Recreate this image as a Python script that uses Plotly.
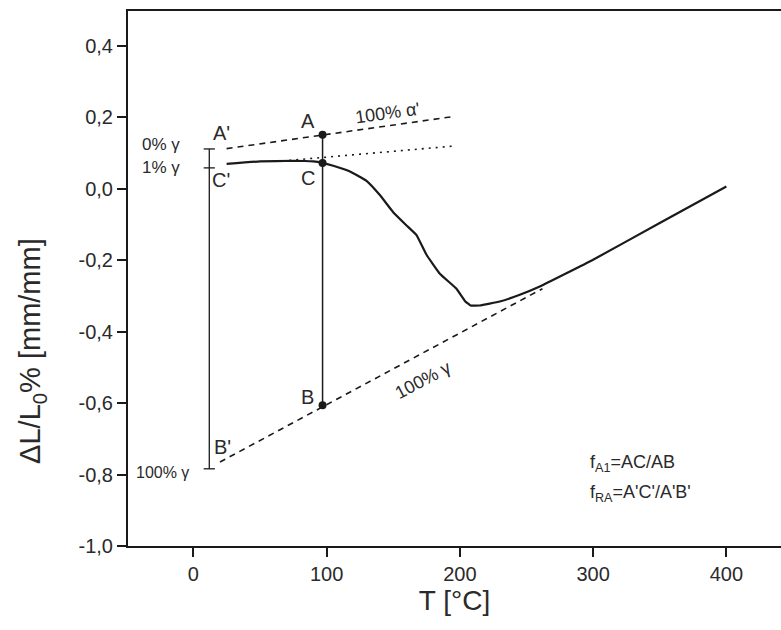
import plotly.graph_objects as go

# Dilatometric curve
curve_T = [25, 50, 75, 90, 97, 105, 117.5, 130, 140, 150, 160, 167.5, 175, 185,
           197.5, 204, 208, 215, 230, 245, 260, 300, 350, 400]
curve_dL = [0.069, 0.076, 0.078, 0.076, 0.072, 0.064, 0.048, 0.022, -0.018, -0.066,
            -0.103, -0.130, -0.185, -0.238, -0.280, -0.315, -0.327, -0.327, -0.316,
            -0.297, -0.274, -0.199, -0.096, 0.006]

# Construction lines
alpha_T = [25, 194]
alpha_dL = [0.112, 0.201]
dot_T = [72, 195]
dot_dL = [0.079, 0.119]
gamma_T = [20, 262]
gamma_dL = [-0.765, -0.28]
vert_T = [97, 97]
vert_dL = [0.151, -0.606]
pts_T = [97, 97, 97]
pts_dL = [0.151, 0.072, -0.606]
bar_T = [12, 12]
bar_dL = [0.111, -0.784]
cap_T = [12, 12, 12]
cap_dL = [0.111, 0.058, -0.784]

xticks = [0, 100, 200, 300, 400]
yticks = [0.4, 0.2, 0.0, -0.2, -0.4, -0.6, -0.8, -1.0]
yticklabels = ["0,4", "0,2", "0,0", "-0,2", "-0,4", "-0,6", "-0,8", "-1,0"]

FONT = "Liberation Sans"
INK = "#1a1a1a"
TXT = "#2a2a2a"

fig = go.Figure()
fig.add_trace(go.Scatter(x=curve_T, y=curve_dL, mode="lines",
                         line=dict(color=INK, width=2.2, shape="spline", smoothing=0.3)))
fig.add_trace(go.Scatter(x=alpha_T, y=alpha_dL, mode="lines",
                         line=dict(color=INK, width=1.6, dash="6px,5px")))
fig.add_trace(go.Scatter(x=dot_T, y=dot_dL, mode="lines",
                         line=dict(color=INK, width=1.6, dash="2px,5px")))
fig.add_trace(go.Scatter(x=gamma_T, y=gamma_dL, mode="lines",
                         line=dict(color=INK, width=1.6, dash="6px,5px")))
fig.add_trace(go.Scatter(x=vert_T, y=vert_dL, mode="lines",
                         line=dict(color=INK, width=1.5)))
fig.add_trace(go.Scatter(x=bar_T, y=bar_dL, mode="lines",
                         line=dict(color=INK, width=1.3)))
fig.add_trace(go.Scatter(x=cap_T, y=cap_dL, mode="markers",
                         marker=dict(symbol="line-ew", size=8, line=dict(color=INK, width=1.3))))
fig.add_trace(go.Scatter(x=pts_T, y=pts_dL, mode="markers",
                         marker=dict(color=INK, size=8)))

def lab(x, y, text, size=20, angle=0, xanchor="center", xref="x"):
    fig.add_annotation(x=x, y=y, xref=xref, yref="y", text=text, showarrow=False,
                       textangle=angle, xanchor=xanchor, yanchor="middle",
                       font=dict(family=FONT, size=size, color=TXT))

lab(21, 0.156, "A'")
lab(86, 0.189, "A")
lab(146, 0.212, "100% α'", size=18, angle=-8)
lab(-24, 0.123, "0% γ", size=17)
lab(-24, 0.058, "1% γ", size=17)
lab(21, 0.023, "C'")
lab(86, 0.030, "C")
lab(86, -0.582, "B")
lab(22, -0.724, "B'")
lab(-23, -0.793, "100% γ", size=16)
lab(172.5, -0.536, "100% γ", size=18, angle=-28)
lab(296, -0.769, "f<sub>A1</sub>=AC/AB", size=18, xanchor="left")
lab(296, -0.853, "f<sub>RA</sub>=A'C'/A'B'", size=18, xanchor="left")
# y-axis title (placed as in the reference, below the axis centre)
lab(-0.146, -0.455, "ΔL/L<sub>0</sub>% [mm/mm]", size=29, angle=-90, xref="paper")

fig.update_layout(
    width=781, height=630,
    margin=dict(l=128, r=0, t=11, b=84),
    paper_bgcolor="white", plot_bgcolor="white",
    showlegend=False,
    font=dict(family=FONT, color=TXT),
    xaxis=dict(range=[-49, 441], tickvals=xticks, ticktext=[str(v) for v in xticks],
               showgrid=False, zeroline=False, showline=True, mirror=True,
               linecolor=INK, linewidth=2, ticks="outside", ticklen=9, tickwidth=1.5,
               tickcolor=INK, tickfont=dict(size=20, family=FONT, color=TXT),
               title=dict(text="T [°C]", font=dict(size=28, family=FONT, color=TXT), standoff=6)),
    yaxis=dict(range=[-1.0, 0.497], tickvals=yticks, ticktext=yticklabels,
               showgrid=False, zeroline=False, showline=True, mirror=False,
               linecolor=INK, linewidth=2, ticks="outside", ticklen=9, tickwidth=1.5,
               tickcolor=INK, tickfont=dict(size=20, family=FONT, color=TXT)),
)

fig.write_html("out.html")
